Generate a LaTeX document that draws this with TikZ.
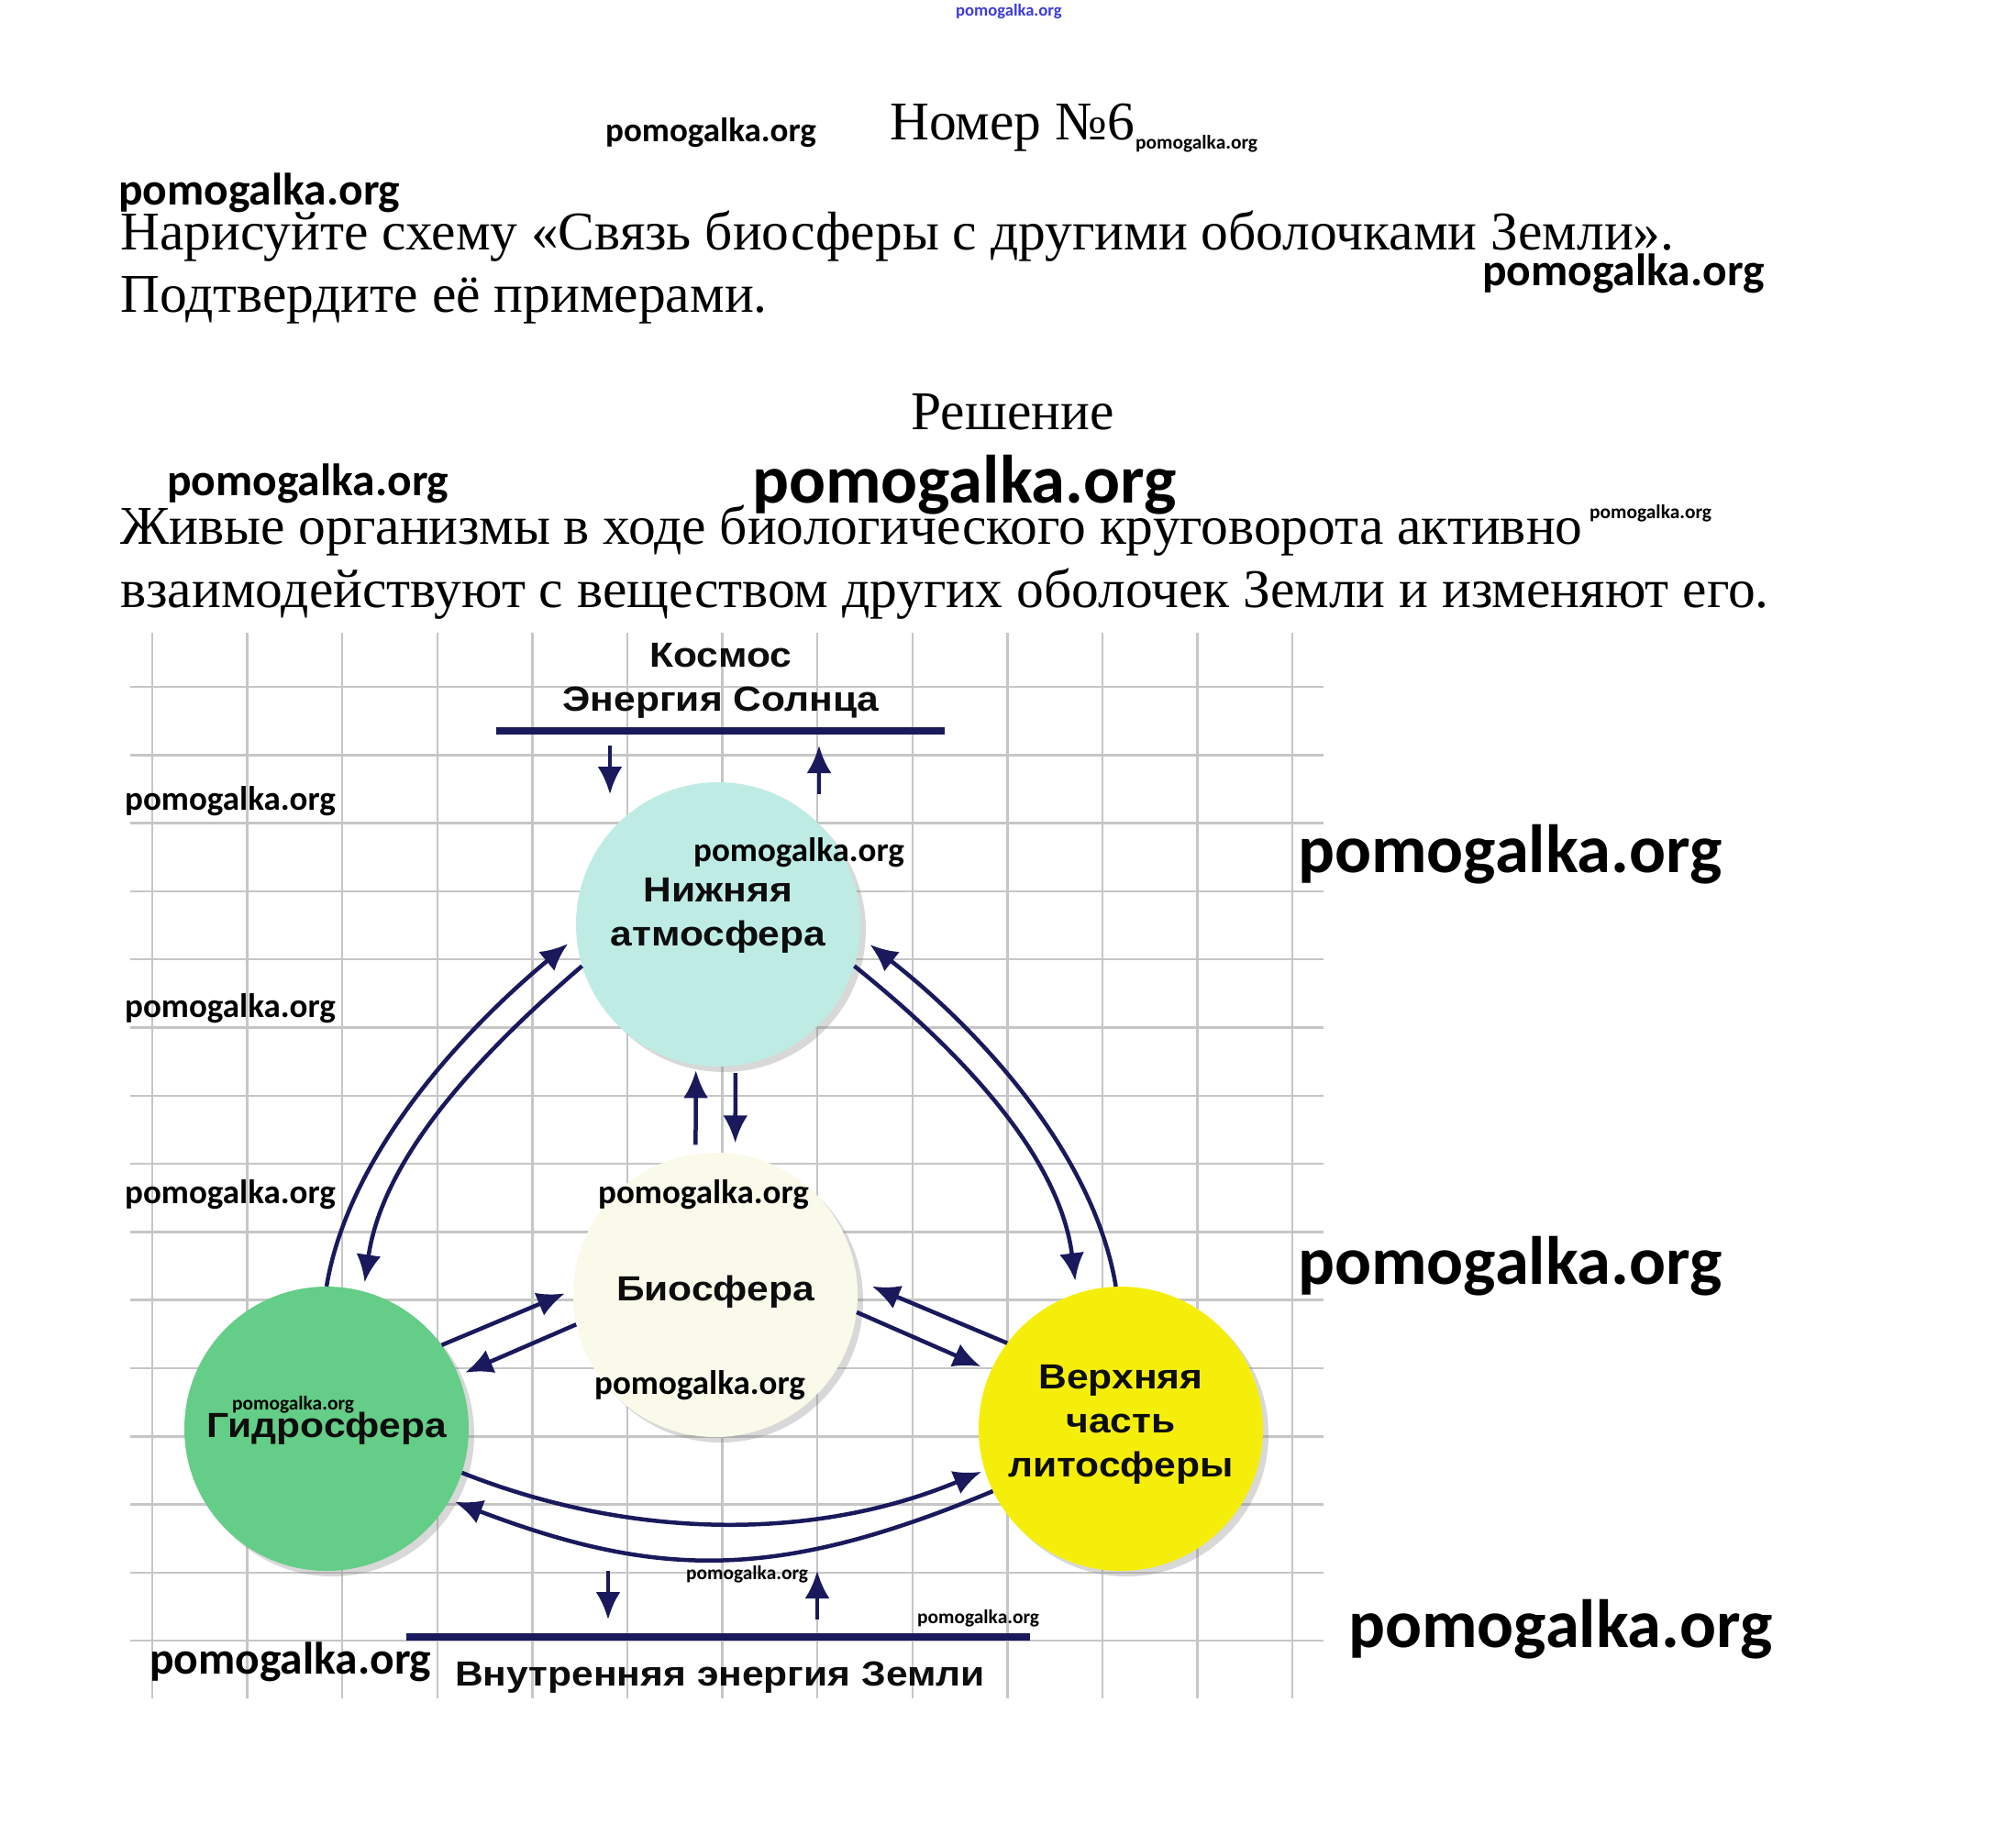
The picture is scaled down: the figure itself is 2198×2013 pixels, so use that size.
\documentclass[tikz,border=0pt]{standalone}
\usepackage{fontspec}
\setmainfont{Liberation Serif}
\newfontfamily\wmfont{Carlito}
\newfontfamily\labfont[FakeStretch=1.12]{Liberation Sans}
\usetikzlibrary{arrows.meta,shadows}
\definecolor{navy}{RGB}{25,25,92}
\definecolor{linkblue}{RGB}{60,60,220}
\definecolor{atmc}{RGB}{190,236,228}
\definecolor{bioc}{RGB}{250,250,234}
\definecolor{hydc}{RGB}{100,205,135}
\definecolor{lithc}{RGB}{245,238,10}

\begin{document}
\begin{tikzpicture}[x=1pt,y=-1pt,
  txt/.style={anchor=base west,inner sep=0,font=\fontsize{59.5}{69}\selectfont},
  wm/.style={anchor=base west,inner sep=0,font=\wmfont\bfseries\fontsize{#1}{#1}\selectfont},
  lab/.style={align=center,inner sep=0,text=black!95,font=\labfont\bfseries\fontsize{38}{48}\selectfont},
  sph/.style={circle,minimum size=310pt,inner sep=0,drop shadow={shadow xshift=6pt,shadow yshift=-6pt,opacity=0.3}},
  flow/.style={draw=navy,line width=4.5pt,-{Latex[length=30pt,width=27pt]}},
  bar/.style={draw=navy,line width=8pt},
  gridln/.style={draw=gray!45,line width=2.5pt}]
\fill[white] (0,0) rectangle (2198,2013);
\useasboundingbox (0,0) rectangle (2198,2013);

\node[txt] (num) at (970,152) {Номер №6};
\node[txt] (task1) at (131,272) {Нарисуйте схему «Связь биосферы с другими оболочками Земли».};
\node[txt] (task2) at (131,340) {Подтвердите её примерами.};
\node[txt,anchor=base] (sol) at (1104,468) {Решение};
\node[txt] (ans1) at (131,593) {Живые организмы в ходе биологического круговорота активно};
\node[txt] (ans2) at (131,662) {взаимодействуют с веществом других оболочек Земли и изменяют его.};

\foreach \i in {0,...,12} \draw[gridln] ({166+103.6*\i},690) -- ({166+103.6*\i},1852);
\foreach \j in {0,...,14} \draw[gridln] (142,{749+74.3*\j}) -- (1443,{749+74.3*\j});

\node[lab] (sun) at (786,742) {Космос\\Энергия Солнца};
\coordinate (barL) at (541,797); \coordinate (barR) at (1030,797);
\draw[bar] (barL) -- (barR);
\node[lab,anchor=base] (core) at (785,1838) {Внутренняя энергия Земли};
\coordinate (coreL) at (443,1785); \coordinate (coreR) at (1123,1785);
\draw[bar] (coreL) -- (coreR);

\node[sph,fill=atmc] (atm) at (783,1008) {};
\node[sph,fill=bioc] (bio) at (780,1412) {};
\node[sph,fill=hydc] (hyd) at (356,1558) {};
\node[sph,fill=lithc] (lith) at (1222,1558) {};
\node[lab] (atmlab) at ([yshift=10pt]atm.center) {Нижняя\\атмосфера};
\node[lab] (biolab) at ([yshift=3pt]bio.center) {Биосфера};
\node[lab] (hydlab) at (hyd.center) {Гидросфера};
\node[lab] (lithlab) at ([yshift=5pt]lith.center) {Верхняя\\часть\\литосферы};

\coordinate (inA) at (665,813); \coordinate (inB) at (665,866);
\coordinate (outA) at (893,866); \coordinate (outB) at (893,813);
\draw[flow] (inA) -- (inB); \draw[flow] (outA) -- (outB);
\coordinate (dnA) at (663,1713); \coordinate (dnB) at (663,1766);
\coordinate (upA) at (891,1766); \coordinate (upB) at (891,1713);
\draw[flow] (dnA) -- (dnB); \draw[flow] (upA) -- (upB);

\draw[flow,shorten <=10pt,shorten >=6pt] (bio.98) -- (atm.261);
\draw[flow,shorten <=8pt,shorten >=12pt] (atm.277) -- (bio.82);
\draw[flow,shorten >=12pt] (hyd.90) .. controls (381,1253) and (514,1116) .. (atm.185);
\draw[flow,shorten >=10pt] (atm.197) .. controls (530,1143) and (418,1258) .. (hyd.75);
\draw[flow,shorten >=14pt] (lith.92) .. controls (1192,1253) and (1059,1116) .. (atm.355);
\draw[flow,shorten >=14pt] (atm.343) .. controls (1043,1143) and (1155,1258) .. (lith.108);
\draw[flow,shorten >=4pt] (hyd.342) .. controls (690,1680) and (890,1680) .. (lith.197);
\draw[flow,shorten >=6pt] (lith.206) .. controls (850,1723) and (720,1723) .. (hyd.330);
\draw[flow,shorten >=10pt] (hyd.36) -- (bio.178);
\draw[flow,shorten >=8pt] (bio.192) -- (hyd.22);
\draw[flow,shorten >=18pt] (lith.143) -- (bio.6);
\draw[flow,shorten >=12pt] (bio.353) -- (lith.156);

\node[wm=18.6,text=linkblue] at (1042,17) {pomogalka.org};
\node[wm=37] at (660,154) {pomogalka.org};
\node[wm=21.4] at (1238,162) {pomogalka.org};
\node[wm=49.5] at (129,223) {pomogalka.org};
\node[wm=49.5] at (1616,311) {pomogalka.org};
\node[wm=49.5] at (182,540) {pomogalka.org};
\node[wm=74.5] at (820,548) {pomogalka.org};
\node[wm=21.4] at (1733,565) {pomogalka.org};
\node[wm=37] at (136,883) {pomogalka.org};
\node[wm=37] at (136,1109) {pomogalka.org};
\node[wm=37] at (136,1312) {pomogalka.org};
\node[wm=37] at (756,939) {pomogalka.org};
\node[wm=37] at (652,1312) {pomogalka.org};
\node[wm=37] at (648,1520) {pomogalka.org};
\node[wm=21.4] at (253,1537) {pomogalka.org};
\node[wm=21.4] at (748,1722) {pomogalka.org};
\node[wm=21.4] at (1000,1770) {pomogalka.org};
\node[wm=49.5] at (163,1825) {pomogalka.org};
\node[wm=74.5] at (1415,951) {pomogalka.org};
\node[wm=74.5] at (1415,1400) {pomogalka.org};
\node[wm=74.5] at (1470,1796) {pomogalka.org};
\end{tikzpicture}
\end{document}
